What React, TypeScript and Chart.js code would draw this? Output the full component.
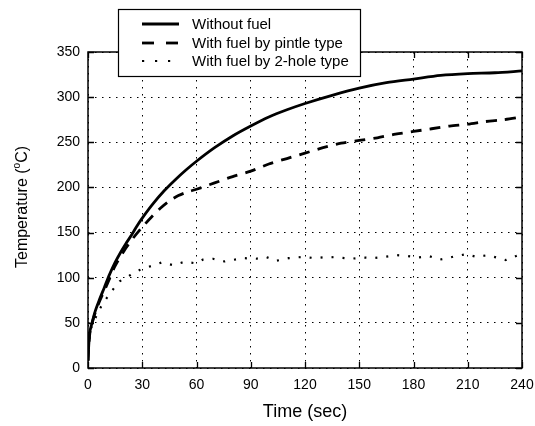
import React, { useEffect, useRef } from "react";
import { Chart, registerables } from "chart.js";

Chart.register(...registerables);

// ---- data ----
const seriesLabels = [
  "Without fuel",
  "With fuel by pintle type",
  "With fuel by 2-hole type",
];

const timeWithout = [0, 0.5, 1, 2.5, 4, 6, 9, 12, 15, 18, 21, 24, 27, 30, 36, 42, 48, 54, 60, 70, 80, 90, 100, 110, 120, 135, 150, 165, 180, 195, 210, 225, 240];
const tempWithout = [8, 28, 40, 52, 63, 74, 89, 104, 117, 128, 138, 147, 157, 166, 182, 196, 208, 219, 229, 244, 257, 268, 278, 286, 293, 302, 310, 316, 320, 324, 326, 327, 329];

const timePintle = [0, 1, 3, 6, 10, 15, 20, 25, 30, 35, 40, 45, 50, 55, 60, 70, 80, 90, 100, 110, 120, 130, 140, 150, 160, 170, 180, 190, 200, 210, 220, 230, 240];
const tempPintle = [8, 38, 55, 72, 90, 113, 130, 144, 156, 167, 177, 185, 191, 195, 198, 205, 212, 218, 226, 232, 238, 244, 249, 252, 255, 259, 262, 265, 268, 270, 273, 275, 278];

const timeTwoHole = [0, 1, 6, 9.5, 13, 17.5, 23.5, 29, 35, 41, 47, 53.5, 59.5, 63.5, 69, 75.5, 79.5, 86, 93, 98.5, 104, 111, 118.5, 126, 132.5, 138.5, 145.5, 152, 157.5, 163.5, 170.5, 177, 182.5, 188.5, 194.5, 199, 203.5, 209, 215, 221, 226, 231, 237.5, 240];
const tempTwoHole = [8, 41, 64, 75, 85, 96, 103, 109, 113, 117, 114, 117.6, 116, 120, 121, 118, 119.5, 121.7, 121, 123, 118.7, 121.7, 123, 121.7, 123, 122.4, 121, 122.4, 121.7, 123, 125, 124, 122.4, 124, 120, 121.7, 124, 126, 123, 125, 122.4, 119.5, 124.7, 124];

const xTickValues = [0, 30, 60, 90, 120, 150, 180, 210, 240];
const yTickValues = [0, 50, 100, 150, 200, 250, 300, 350];

const xTitle = "Time (sec)";
const yTitleParts = ["Temperature (", "o", "C)"];

const FONT = '"Liberation Sans", Arial, Helvetica, sans-serif';

const toPoints = (xs: number[], ys: number[]) => xs.map((x, i) => ({ x, y: ys[i] }));

const framePlugin = {
  id: "matlabFrame",
  afterDatasetsDraw(chart: any) {
    const { ctx, chartArea: a, scales } = chart;
    const xs = scales.x;
    const ys = scales.y;
    ctx.save();
    ctx.strokeStyle = "#000";
    ctx.lineWidth = 1.3;
    ctx.setLineDash([]);
    const tl = 6;
    ctx.beginPath();
    xs.ticks.forEach((t: any) => {
      const px = Math.round(xs.getPixelForValue(t.value)) + 0.5;
      ctx.moveTo(px, a.bottom);
      ctx.lineTo(px, a.bottom - tl);
      ctx.moveTo(px, a.top);
      ctx.lineTo(px, a.top + tl);
    });
    ys.ticks.forEach((t: any) => {
      const py = Math.round(ys.getPixelForValue(t.value)) + 0.5;
      ctx.moveTo(a.left, py);
      ctx.lineTo(a.left + tl, py);
      ctx.moveTo(a.right, py);
      ctx.lineTo(a.right - tl, py);
    });
    ctx.stroke();
    ctx.lineWidth = 1.5;
    ctx.strokeRect(a.left, a.top, a.right - a.left, a.bottom - a.top);
    ctx.restore();
  },
  afterDraw(chart: any) {
    const { ctx } = chart;
    // legend box
    ctx.save();
    const bx = 118, by = 9, bw = 242, bh = 67;
    ctx.fillStyle = "#fff";
    ctx.fillRect(bx, by, bw, bh);
    ctx.strokeStyle = "#000";
    ctx.lineWidth = 1.2;
    ctx.strokeRect(bx + 0.5, by + 0.5, bw, bh);
    const rows = [24, 43, 61];
    chart.data.datasets.forEach((ds: any, i: number) => {
      const y = rows[i];
      ctx.save();
      ctx.strokeStyle = ds.borderColor;
      ctx.lineWidth = ds.borderWidth;
      ctx.lineCap = "butt";
      ctx.setLineDash(i === 0 ? [] : i === 1 ? [12, 12] : [2.2, 10.8]);
      ctx.beginPath();
      ctx.moveTo(142, y);
      ctx.lineTo(179, y);
      ctx.stroke();
      ctx.restore();
      ctx.fillStyle = "#000";
      ctx.font = `15px ${FONT}`;
      ctx.textAlign = "left";
      ctx.textBaseline = "middle";
      ctx.fillText(ds.label, 192, y + 0.5);
    });
    // y axis title with superscript
    ctx.translate(23, 207);
    ctx.rotate(-Math.PI / 2);
    ctx.fillStyle = "#000";
    ctx.textBaseline = "middle";
    ctx.textAlign = "left";
    const big = `16px ${FONT}`;
    const small = `10px ${FONT}`;
    ctx.font = big;
    const w1 = ctx.measureText(yTitleParts[0]).width;
    const w3 = ctx.measureText(yTitleParts[2]).width;
    ctx.font = small;
    const w2 = ctx.measureText(yTitleParts[1]).width;
    let x = -(w1 + w2 + w3) / 2;
    ctx.font = big;
    ctx.fillText(yTitleParts[0], x, 0);
    x += w1;
    ctx.font = small;
    ctx.fillText(yTitleParts[1], x, -6);
    x += w2;
    ctx.font = big;
    ctx.fillText(yTitleParts[2], x, 0);
    ctx.restore();
  },
};

export default function App() {
  const canvasRef = useRef<HTMLCanvasElement | null>(null);

  useEffect(() => {
    if (!canvasRef.current) return;
    const gridCommon = {
      color: "#000",
      lineWidth: 1,
      drawTicks: false,
    };
    const chart = new Chart(canvasRef.current, {
      type: "line",
      data: {
        datasets: [
          {
            label: seriesLabels[0],
            data: toPoints(timeWithout, tempWithout),
            borderColor: "#000",
            borderWidth: 2.8,
            pointRadius: 0,
            tension: 0.3,
            fill: false,
          },
          {
            label: seriesLabels[1],
            data: toPoints(timePintle, tempPintle),
            borderColor: "#000",
            borderWidth: 2.8,
            borderDash: [11, 8],
            pointRadius: 0,
            tension: 0.3,
            fill: false,
          },
          {
            label: seriesLabels[2],
            data: toPoints(timeTwoHole, tempTwoHole),
            borderColor: "#000",
            borderWidth: 2.2,
            borderDash: [2, 9],
            pointRadius: 0,
            tension: 0,
            fill: false,
          },
        ],
      },
      options: {
        animation: false,
        responsive: false,
        devicePixelRatio: 1,
        layout: { padding: { top: 52, right: 13, left: 0, bottom: 0 } },
        plugins: {
          legend: { display: false },
          tooltip: { enabled: false },
        },
        scales: {
          x: {
            type: "linear",
            min: 0,
            max: 240,
            afterBuildTicks: (s: any) => {
              s.ticks = xTickValues.map((v) => ({ value: v }));
            },
            afterFit: (s: any) => {
              s.height = 58;
              s.paddingLeft = 0;
              s.paddingRight = 0;
            },
            grid: gridCommon,
            border: { display: false, dash: [1.5, 5.5] },
            ticks: {
              color: "#000",
              font: { family: FONT, size: 14 },
              padding: 9,
              maxRotation: 0,
              autoSkip: false,
            },
            title: {
              display: true,
              text: xTitle,
              color: "#000",
              font: { family: FONT, size: 18 },
              padding: { top: 0, bottom: 3 },
            },
          },
          y: {
            type: "linear",
            min: 0,
            max: 350,
            afterBuildTicks: (s: any) => {
              s.ticks = yTickValues.map((v) => ({ value: v }));
            },
            afterFit: (s: any) => {
              s.width = 88;
              s.paddingTop = 0;
              s.paddingBottom = 0;
            },
            grid: gridCommon,
            border: { display: false, dash: [1.5, 5.5] },
            ticks: {
              color: "#000",
              font: { family: FONT, size: 14 },
              padding: 8,
              autoSkip: false,
            },
          },
        },
      },
      plugins: [framePlugin],
    } as any);
    return () => chart.destroy();
  }, []);

  return (
    <div style={{ position: "fixed", left: 0, top: 0, width: 535, height: 426, background: "#fff" }}>
      <canvas ref={canvasRef} width={535} height={426} style={{ display: "block" }} />
    </div>
  );
}
